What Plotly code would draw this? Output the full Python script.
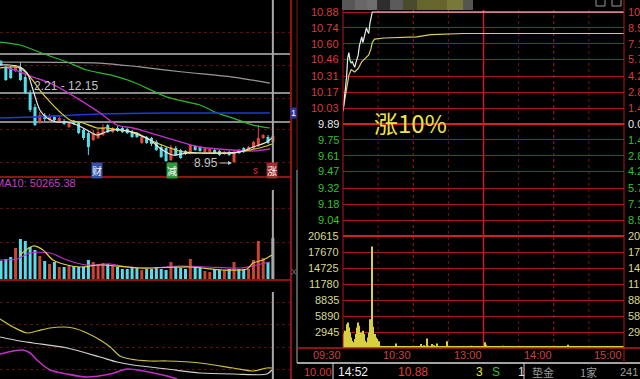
import plotly.graph_objects as go

W, H = 640, 379


def fx(a, b):
    return [a / W, b / W]


def fy(top, bot):
    return [1 - bot / H, 1 - top / H]


def px(x):
    return x / W


def py(y):
    return 1 - y / H


# ---------------- left panel: daily candles (index 0..56) ----------------
cand_open = [16.24, 15.74, 15.74, 15.52, 15.81, 15.09, 13.95, 12.95, 11.88, 12.38,
             12.02, 12.24, 11.88, 11.95, 11.52, 11.95, 11.81, 11.31, 11.09, 10.59,
             10.74, 10.95, 11.66, 11.16, 11.45, 11.45, 11.38, 11.16, 11.09, 10.38,
             10.81, 10.74, 10.45, 10.09, 10.02, 9.16, 10.02, 9.88, 9.81, 9.74,
             10.16, 10.09, 9.74, 9.74, 9.88, 9.81, 9.59, 9.74, 9.02, 9.88,
             10.02, 9.88, 10.02, 10.16, 10.74, 10.81, 10.45]
cand_high = [16.31, 15.88, 15.88, 15.95, 16.16, 15.24, 14.16, 13.16, 12.59, 12.52,
             12.45, 12.38, 12.31, 12.09, 11.95, 12.02, 11.88, 11.45, 11.24, 11.31,
             11.45, 11.74, 11.74, 11.52, 11.59, 11.52, 11.45, 11.31, 11.16, 10.95,
             10.88, 10.81, 10.59, 10.24, 10.09, 10.24, 10.16, 9.95, 9.88, 10.31,
             10.24, 10.16, 10.09, 10.02, 9.95, 9.88, 9.81, 9.81, 9.81, 9.95,
             10.09, 10.16, 10.52, 11.66, 11.02, 10.95, 10.88]
cand_low = [15.88, 14.81, 14.95, 15.45, 14.81, 13.88, 12.59, 11.59, 11.74, 11.95,
            11.88, 11.88, 11.81, 11.66, 11.45, 11.66, 11.02, 10.59, 9.52, 10.52,
            10.66, 10.88, 11.09, 11.09, 11.16, 11.09, 11.02, 10.74, 10.74, 10.31,
            10.31, 10.16, 9.81, 9.31, 9.02, 9.09, 9.45, 9.24, 9.52, 9.66,
            9.81, 9.74, 9.66, 9.66, 9.59, 9.45, 9.52, 9.45, 8.95, 9.59,
            9.66, 9.81, 9.95, 10.09, 10.66, 10.31, 10.38]
cand_close = [15.95, 14.88, 15.02, 15.81, 14.88, 13.95, 12.74, 11.66, 12.38, 12.09,
              12.31, 12.02, 12.16, 11.74, 11.81, 11.74, 11.09, 10.74, 10.09, 11.09,
              11.16, 11.45, 11.16, 11.45, 11.24, 11.16, 11.09, 10.81, 10.81, 10.81,
              10.38, 10.31, 9.88, 9.38, 9.09, 10.09, 9.52, 9.31, 9.59, 10.24,
              9.88, 9.81, 10.02, 9.95, 9.66, 9.52, 9.74, 9.52, 9.74, 9.66,
              9.74, 10.09, 10.45, 10.74, 10.95, 10.38, 10.88]

# daily volume (same index)
day_volume = [60400, 66000, 72600, 102300, 132000, 125400, 105600, 95700, 75900, 59400,
              49500, 56100, 39600, 39600, 42900, 42900, 39600, 39600, 62700, 56100,
              49500, 52800, 49500, 42900, 39600, 33000, 33000, 36300, 36300, 29700,
              33000, 33000, 39600, 33000, 29700, 56100, 39600, 36300, 33000, 66000,
              39600, 39600, 26400, 23100, 33000, 29700, 29700, 33000, 56100, 33000,
              33000, 33000, 62700, 125400, 69300, 56100, 135300]

# price moving averages: (index position, value)
ma_green_x = [-0.2, 3.9, 9.5, 13.6, 17.7, 22.5, 27.2, 34.2, 41.0, 44.5, 47.8, 51.9, 55.4]
ma_green_y = [17.59, 17.38, 16.66, 16.16, 15.59, 15.24, 14.74, 13.66, 13.09, 12.52, 12.16, 11.66, 11.45]
ma_gray_x = [-0.2, 20.4, 28.6, 37.5, 47.8, 55.4]
ma_gray_y = [16.16, 16.09, 15.81, 15.45, 15.09, 14.66]
ma_blue_x = [-0.2, 6.6, 20.4, 34.2, 55.4]
ma_blue_y = [12.16, 12.24, 12.45, 12.52, 12.52]
ma_mag_x = [1.2, 3.9, 6.6, 10.1, 13.6, 16.9, 20.4, 23.9, 27.2, 34.2, 41.0, 47.8, 51.9, 55.4]
ma_mag_y = [15.74, 15.45, 15.09, 14.66, 14.02, 13.31, 12.52, 11.66, 11.45, 10.74, 10.09, 9.88, 9.81, 9.95]
ma_yel_x = [-0.2, 2.5, 3.9, 6.0, 8.0, 10.1, 12.15, 14.2, 16.9, 19.8, 21.8, 24.5, 28.0, 30.7,
            34.2, 37.5, 41.0, 44.5, 47.8, 51.3, 54.0, 55.8]
ma_yel_y = [15.74, 15.81, 15.74, 15.09, 14.16, 13.31, 12.59, 12.02, 11.81, 11.45, 11.45, 11.31, 11.09, 10.59,
            10.09, 9.74, 9.66, 9.66, 9.66, 9.88, 10.09, 10.31]
ma_wht_x = [-0.2, 1.85, 3.9, 5.4, 6.6, 8.0, 9.5, 11.5, 13.6, 15.65, 17.7, 19.8, 21.0, 23.1, 26.0,
            30.7, 32.7, 35.4, 38.3, 42.4, 46.5, 49.2, 51.9, 54.8, 55.8]
ma_wht_y = [15.95, 15.95, 15.81, 15.38, 14.16, 12.74, 12.16, 11.88, 11.88, 11.66, 11.31, 10.95, 11.09, 11.31, 11.24,
            10.59, 10.02, 9.52, 9.66, 9.66, 9.66, 9.74, 10.09, 10.45, 10.74]

# drawn horizontal lines & grid levels on the daily chart
drawn_levels = [16.74, 13.95, 11.88]
left_price_grid = [18.24, 15.95, 13.59, 11.31, 9.02]

# volume moving averages
vma_yel_x = [3.9, 6.6, 8.65, 10.7, 13.6, 16.3, 20.4, 28.6, 38.9, 45.7, 50.7, 51.9, 54.0, 55.8]
vma_yel_y = [79200, 108900, 95700, 62700, 46200, 39600, 46200, 36300, 39600, 29700, 33000, 52800, 62700, 79200]
vma_mag_x = [-0.2, 3.3, 6.0, 10.1, 13.6, 17.7, 22.5, 26.0, 30.7, 36.9, 42.4, 49.2, 52.7, 55.4]
vma_mag_y = [62700, 66000, 85800, 85800, 62700, 46200, 49500, 39600, 36300, 42900, 39600, 36300, 46200, 56100]
left_vol_grid = [122100, 234300]

# bottom indicator lines
ind_yel_x = [-0.2, 2.5, 5.4, 7.4, 10.1, 12.8, 14.8, 17.7, 20.4, 22.5, 24.5, 26.6, 30.7, 34.2, 41.0, 47.8, 51.9, 54.8, 55.8]
ind_yel_y = [60, 52, 46, 48, 51, 52, 51, 46, 39, 32, 23, 20, 18, 18, 16, 11, 8, 11, 11]
ind_wht_x = [-0.2, 3.9, 6.6, 13.6, 20.4, 23.9, 27.2, 34.2, 41.0, 47.8, 54.8, 55.8]
ind_wht_y = [42, 38, 36, 31, 22, 17, 14, 10, 6, 5, 5, 9]
ind_mag_x = [-0.2, 2.5, 4.5, 6.0, 7.4, 10.1, 13.6, 17.7, 22.5, 26.0, 29.3, 34.2, 36.3]
ind_mag_y = [25, 28, 29, 26, 19, 9, 5, 2, 5, 10, 8, 3, 0]
ind_grid = [10, 32, 55, 77]

event_labels = ["财", "减", "s", "涨"]
event_pos = [19.8, 35.2, 52.5, 55.8]

# ---------------- right panel: intraday ----------------
prev_close = 9.89
price_ticks = ["9.04", "9.18", "9.32", "9.47", "9.61", "9.75", "9.89",
               "10.03", "10.17", "10.31", "10.46", "10.60", "10.74", "10.88"]
vol_ticks = [2945, 5890, 8835, 11780, 14725, 17670, 20615]
time_ticks = [0, 60, 120, 180, 240]
time_labels = ["09:30", "10:30", "13:00", "14:00", "15:00"]

price_min = [0, 1, 2, 3, 4, 5, 6, 7, 8, 9, 10, 11, 12, 13, 14, 15, 16, 17, 18, 19,
             20, 21, 22, 23, 24, 25, 240]
price_val = [10.00, 10.10, 10.18, 10.30, 10.47, 10.52, 10.45, 10.43, 10.44, 10.41,
             10.39, 10.43, 10.46, 10.50, 10.58, 10.63, 10.66, 10.61, 10.65, 10.69,
             10.74, 10.71, 10.69, 10.78, 10.85, 10.88, 10.88]
avg_min = [0, 2, 4, 5, 7, 10, 13, 16, 19, 22, 24, 25, 27, 35, 63, 75, 103, 240]
avg_val = [10.01, 10.12, 10.25, 10.32, 10.37, 10.35, 10.38, 10.44, 10.47, 10.50,
           10.56, 10.61, 10.64, 10.65, 10.66, 10.68, 10.69, 10.69]

minute_volume = [
    2690, 1950, 3170, 4390, 4700, 3780, 2870, 1950, 1340, 1040,
    1650, 2560, 3780, 4700, 4090, 2870, 1950, 3170, 2560, 1340,
    1040, 1950, 2870, 5310, 2260, 18700, 3900, 2560, 1950, 1650,
    1040, 1220, 430,
    320, 260, 210, 300, 240, 190, 280, 230, 260, 200,
    310, 250, 850, 270, 220, 180, 290, 240, 210, 260,
    230, 300, 190, 250, 280, 210, 240, 200, 270, 230,
    260, 300, 220, 380, 730, 290, 500, 260, 330, 1770,
    420, 310, 280, 730, 350, 500, 260, 850, 300, 240,
    270, 220, 310, 260, 240, 200, 1220, 280, 230, 190,
    250, 220, 270, 210, 240, 300, 190, 260, 230, 210,
    280, 240, 200, 260, 220, 250, 430, 210, 240, 190,
    270, 230, 200, 250, 220, 280, 240, 300, 1040, 610,
    350, 260, 220, 240, 200, 270, 230, 210, 250, 190,
    240, 220, 260, 210, 400, 230, 200, 250, 220, 270,
    210, 240, 190, 260, 230, 200, 250, 220, 240, 210,
    270, 230, 190, 250, 220, 260, 200, 240, 210, 230,
    250, 200, 270, 220, 240, 190, 260, 230, 210, 250,
    220, 280, 200, 240, 230, 260, 210, 250, 190, 240,
    220, 270, 230, 200, 250, 220, 260, 240, 300, 610,
    280, 230, 210, 250, 200, 240, 220, 270, 230, 190,
    250, 220, 260, 210, 240, 200, 230, 270, 220, 250,
    190, 240, 230, 260, 210, 250, 220, 200, 270, 240,
    230, 210, 260, 220, 250, 200, 240, 270, 230, 210,
    250, 220, 260, 240, 300, 230, 280, 350]

# ---------------- styling ----------------
RED = "#e04a3a"
CYAN = "#58dcec"
VRED = "#c8462f"
GRIDRED = "#a8181c"
DOTRED = "#5e1010"
FONT = "Liberation Sans, Arial, sans-serif"
CJK = "Noto Sans CJK SC"

fig = go.Figure()

n = len(cand_open)
idx = list(range(n))
up = [c >= o for o, c in zip(cand_open, cand_close)]

# candle bodies
fig.add_trace(go.Bar(
    x=idx, base=[min(o, c) for o, c in zip(cand_open, cand_close)],
    y=[max(abs(c - o), 0.07) for o, c in zip(cand_open, cand_close)],
    width=0.62, marker=dict(color=[RED if u else CYAN for u in up], line_width=0),
    xaxis="x", yaxis="y"))
for flag, col in ((True, RED), (False, CYAN)):
    xs, ys = [], []
    for i in idx:
        if up[i] == flag:
            xs += [i, i, None]
            ys += [cand_low[i], cand_high[i], None]
    fig.add_trace(go.Scatter(x=xs, y=ys, mode="lines", line=dict(color=col, width=1),
                             xaxis="x", yaxis="y"))


def add_line(xv, yv, color, ax, ay, width=1.2):
    fig.add_trace(go.Scatter(x=xv, y=yv, mode="lines",
                             line=dict(color=color, width=width, shape="spline", smoothing=0.8),
                             xaxis=ax, yaxis=ay))


add_line(ma_gray_x, ma_gray_y, "#9a9a9a", "x", "y")
add_line(ma_green_x, ma_green_y, "#2fb82f", "x", "y")
add_line(ma_blue_x, ma_blue_y, "#2038d8", "x", "y", 1.6)
add_line(ma_mag_x, ma_mag_y, "#c030c8", "x", "y", 1.4)
add_line(ma_yel_x, ma_yel_y, "#e0d040", "x", "y")
add_line(ma_wht_x, ma_wht_y, "#e8e8e8", "x", "y")

# daily volume
vcols = [VRED if u else CYAN for u in up]
vcols[-1] = "#a8a8a8"
fig.add_trace(go.Bar(x=idx, y=day_volume, width=0.62,
                     marker=dict(color=vcols, line_width=0), xaxis="x2", yaxis="y2"))
add_line(vma_mag_x, vma_mag_y, "#c030c8", "x2", "y2")
add_line(vma_yel_x, vma_yel_y, "#e0d040", "x2", "y2")

# indicator panel
add_line(ind_yel_x, ind_yel_y, "#c8c040", "x3", "y3")
add_line(ind_wht_x, ind_wht_y, "#d0d0d0", "x3", "y3")
add_line(ind_mag_x, ind_mag_y, "#c030c8", "x3", "y3", 1.6)

# intraday
fig.add_trace(go.Bar(x=list(range(len(minute_volume))), y=minute_volume, width=0.8,
                     marker=dict(color="#d8d040", line_width=0), xaxis="x5", yaxis="y5"))
fig.add_trace(go.Scatter(x=avg_min, y=avg_val, mode="lines",
                         line=dict(color="#d8d060", width=1.2), xaxis="x4", yaxis="y4"))
fig.add_trace(go.Scatter(x=price_min, y=price_val, mode="lines",
                         line=dict(color="#f0f0f0", width=1.2), xaxis="x4", yaxis="y4",
                         cliponaxis=False))

# ---------------- axes ----------------
hidden = dict(showgrid=False, zeroline=False, showticklabels=False, showline=False, ticks="")
xr = [-0.206, 59.53]
d = (float(price_ticks[-1]) - float(price_ticks[0])) / (len(price_ticks) - 1)
layout = dict(
    width=W, height=H, margin=dict(l=0, r=0, t=0, b=0),
    paper_bgcolor="black", plot_bgcolor="black", showlegend=False,
    barmode="overlay", font=dict(family=FONT, size=11, color="#c8c8c8"),
    xaxis={**hidden, "domain": fx(0, 290), "range": xr, "anchor": "y"},
    yaxis={**hidden, "domain": fy(0, 176), "range": [8.0214, 20.5929], "anchor": "x",
           "showgrid": True, "gridcolor": DOTRED, "griddash": "dot", "tickvals": left_price_grid},
    xaxis2={**hidden, "domain": fx(0, 290), "range": xr, "anchor": "y2", "matches": "x"},
    yaxis2={**hidden, "domain": fy(177, 279), "range": [0, 336600], "anchor": "x2",
            "showgrid": True, "gridcolor": DOTRED, "griddash": "dot", "tickvals": left_vol_grid},
    xaxis3={**hidden, "domain": fx(0, 290), "range": xr, "anchor": "y3", "matches": "x"},
    yaxis3={**hidden, "domain": fy(281, 379), "range": [0, 98], "anchor": "x3",
            "showgrid": True, "gridcolor": DOTRED, "griddash": "dot", "tickvals": ind_grid},
    xaxis4={**hidden, "domain": fx(343, 624), "range": [0, 240], "anchor": "y4"},
    yaxis4={**hidden, "domain": fy(4, 228),
            "range": [float(price_ticks[0]) - d / 2, float(price_ticks[-1]) + d / 2], "anchor": "x4",
            "showgrid": True, "gridcolor": GRIDRED, "gridwidth": 1,
            "tickvals": [float(t) for t in price_ticks]},
    xaxis5={**hidden, "domain": fx(343, 624), "range": [0, 240], "anchor": "y5", "matches": "x4"},
    yaxis5={**hidden, "domain": fy(228, 348), "range": [0, 7.5 * vol_ticks[0]], "anchor": "x5",
            "showgrid": True, "gridcolor": GRIDRED, "gridwidth": 1, "tickvals": vol_ticks},
)
fig.update_layout(**layout)

# ---------------- shapes ----------------
shapes = []
for lv in drawn_levels:
    shapes.append(dict(type="line", xref="x domain", yref="y", x0=0, x1=1, y0=lv, y1=lv,
                       line=dict(color="#b8b8b8", width=1.5), layer="below"))
# cursor on latest day
last = n - 1
for yr, a, b in (("y domain", 0.023, 1.0), ("y2 domain", 0.0, 0.873), ("y3 domain", 0.0, 0.888)):
    shapes.append(dict(type="line", xref="x", yref=yr, x0=last, x1=last, y0=a, y1=b,
                       line=dict(color="#a8a8a8", width=2)))
# separators
shapes += [
    dict(type="line", xref="paper", yref="paper", x0=0, x1=px(291), y0=py(177), y1=py(177),
         line=dict(color="#c01818", width=1.5)),
    dict(type="line", xref="paper", yref="paper", x0=0, x1=px(291), y0=py(280), y1=py(280),
         line=dict(color="#c01818", width=1.5)),
    dict(type="line", xref="paper", yref="paper", x0=px(291), x1=px(291), y0=0, y1=1,
         line=dict(color="#c01818", width=1.5)),
    dict(type="line", xref="paper", yref="paper", x0=px(297), x1=px(297), y0=py(170), y1=1,
         line=dict(color="#8a1010", width=1)),
    dict(type="line", xref="paper", yref="paper", x0=px(297), x1=px(297), y0=py(363), y1=py(170),
         line=dict(color="#b0b0b0", width=1)),
    dict(type="line", xref="paper", yref="paper", x0=px(297), x1=1, y0=py(363), y1=py(363),
         line=dict(color="#d8d8d8", width=1.5)),
    dict(type="line", xref="paper", yref="paper", x0=px(333), x1=px(333), y0=0, y1=py(363),
         line=dict(color="#d8d8d8", width=1)),
    dict(type="line", xref="paper", yref="paper", x0=px(524), x1=px(524), y0=0, y1=py(363),
         line=dict(color="#d8d8d8", width=1)),
    dict(type="line", xref="paper", yref="paper", x0=px(343), x1=px(343), y0=py(348), y1=py(4),
         line=dict(color="#b01818", width=1)),
    dict(type="line", xref="paper", yref="paper", x0=px(624), x1=px(624), y0=py(363), y1=1,
         line=dict(color="#b01818", width=1)),
    dict(type="line", xref="paper", yref="paper", x0=px(297), x1=1, y0=py(348), y1=py(348),
         line=dict(color="#c01818", width=1.5)),
]
# emphasised lines: previous close and price/volume separator
shapes.append(dict(type="line", xref="x4 domain", yref="y4", x0=0, x1=1, y0=prev_close, y1=prev_close,
                   line=dict(color="#d82020", width=2)))
shapes.append(dict(type="line", xref="x5 domain", yref="y5", x0=0, x1=1, y0=vol_ticks[-1], y1=vol_ticks[-1],
                   line=dict(color="#d02020", width=2)))
# vertical time grid
for m in (30, 90, 150, 210):
    shapes.append(dict(type="line", xref="x4", yref="paper", x0=m, x1=m, y0=py(348), y1=py(10),
                       line=dict(color="#7a1414", width=1, dash="dot"), layer="below"))
for m in (60, 180):
    shapes.append(dict(type="line", xref="x4", yref="paper", x0=m, x1=m, y0=py(348), y1=py(10),
                       line=dict(color="#b01818", width=1, dash="dot"), layer="below"))
shapes.append(dict(type="line", xref="x4", yref="paper", x0=120, x1=120, y0=py(348), y1=py(10),
                   line=dict(color="#d01c1c", width=1.5), layer="below"))
# mosaic (blurred name) at top
mosaic = [(342, 355, "#575757"), (355, 367, "#676767"), (367, 377, "#6e6e6e"), (377, 390, "#2e2e2e"),
          (390, 403, "#5a5a5a"), (403, 417, "#4a4a2c"), (417, 447, "#66662c"), (447, 463, "#787838"),
          (463, 473, "#555550")]
for a, b, c in mosaic:
    shapes.append(dict(type="rect", xref="paper", yref="paper", x0=px(a), x1=px(b), y0=py(10), y1=1,
                       fillcolor=c, line_width=0))
for a, b in ((596, 605), (612, 621)):
    shapes.append(dict(type="rect", xref="paper", yref="paper", x0=px(a), x1=px(b), y0=py(6), y1=py(-2),
                       fillcolor="black", line=dict(color="#9a9a9a", width=1)))
fig.update_layout(shapes=shapes)

# ---------------- annotations ----------------
ann = []


def note(**kw):
    kw.setdefault("showarrow", False)
    kw.setdefault("yanchor", "middle")
    kw.setdefault("xanchor", "center")
    ann.append(kw)


def has_cjk(s):
    return any(ord(ch) > 0x2E80 for ch in s)


for t in price_ticks:
    v = float(t)
    col = "#e8e8e8" if abs(v - prev_close) < 1e-6 else ("#d83c3c" if v > prev_close else "#30c030")
    note(xref="paper", yref="y4", x=px(341), y=v, text=t, xanchor="right", font=dict(color=col, size=11))
    pct = (v - prev_close) / prev_close * 100
    note(xref="paper", yref="y4", x=px(626), y=v, text=f"{abs(pct):.2f}%", xanchor="left",
         font=dict(color=col, size=11))
for v in vol_ticks:
    note(xref="paper", yref="y5", x=px(341), y=v, text=str(v), xanchor="right",
         font=dict(color="#d8d890", size=11))
    note(xref="paper", yref="y5", x=px(626), y=v, text=str(v), xanchor="left",
         font=dict(color="#d8d890", size=11))
for m, lab in zip(time_ticks, time_labels):
    note(xref="x4", yref="paper", x=m, y=py(355), text=lab, xanchor="right",
         font=dict(color="#c84444", size=11))

note(xref="paper", yref="paper", x=px(410), y=py(122), text="涨10%",
     font=dict(family=CJK, size=24, color="#f2e444"))

# left chart texts
note(xref="paper", yref="paper", x=px(32), y=py(86), text="2.21 - 12.15", xanchor="left",
     font=dict(color="#c4c4c4", size=12))
low_val = min(cand_low)
low_i = len(cand_low) - 1 - cand_low[::-1].index(low_val)
note(xref="x", yref="y", x=low_i, y=low_val, text=f"{low_val:.2f}",
     showarrow=True, arrowhead=2, arrowsize=0.8, arrowwidth=1, arrowcolor="#c4c4c4",
     ax=-28, ay=0, standoff=2, font=dict(color="#c4c4c4", size=12))
ev_style = {"财": ("#ffffff", "#3552a8"), "减": ("#ffffff", "#2e9a3c"),
            "s": ("#e03030", None), "涨": ("#ffffff", "#a02c2c")}
for lab, pos in zip(event_labels, event_pos):
    fc, bg = ev_style[lab]
    kw = dict(xref="x", yref="y", x=pos, y=8.45, text=lab,
              font=dict(family=CJK if has_cjk(lab) else FONT, size=10, color=fc), borderpad=0)
    if bg:
        kw["bgcolor"] = bg
    note(**kw)
note(xref="paper", yref="paper", x=px(-7), y=py(183), text="MA10: 50265.38", xanchor="left",
     font=dict(color="#c83cc8", size=11))
note(xref="paper", yref="paper", x=px(293), y=py(113), text="1",
     bgcolor="#2838a8", font=dict(color="#ffffff", size=9), borderpad=0)
note(xref="paper", yref="paper", x=px(294), y=py(272), text="X", font=dict(color="#707070", size=9))

# status bar
status = [(302, "10.00", "#d83c3c", 11), (336, "14:52", "#f0f0f0", 12), (396, "10.88", "#e03c3c", 12),
          (474, "3", "#e0e040", 12), (490, "S", "#30c030", 12), (516, "1", "#e0e0e0", 12),
          (530, "垫金", "#9a9a9a", 11), (578, "1家", "#9a9a9a", 11), (618, "241", "#9a9a9a", 11)]
for x0, t, c, s in status:
    note(xref="paper", yref="paper", x=px(x0), y=py(372), text=t, xanchor="left",
         font=dict(color=c, size=s, family=CJK if has_cjk(t) else FONT))

fig.update_layout(annotations=ann)
fig.write_html("out.html")
